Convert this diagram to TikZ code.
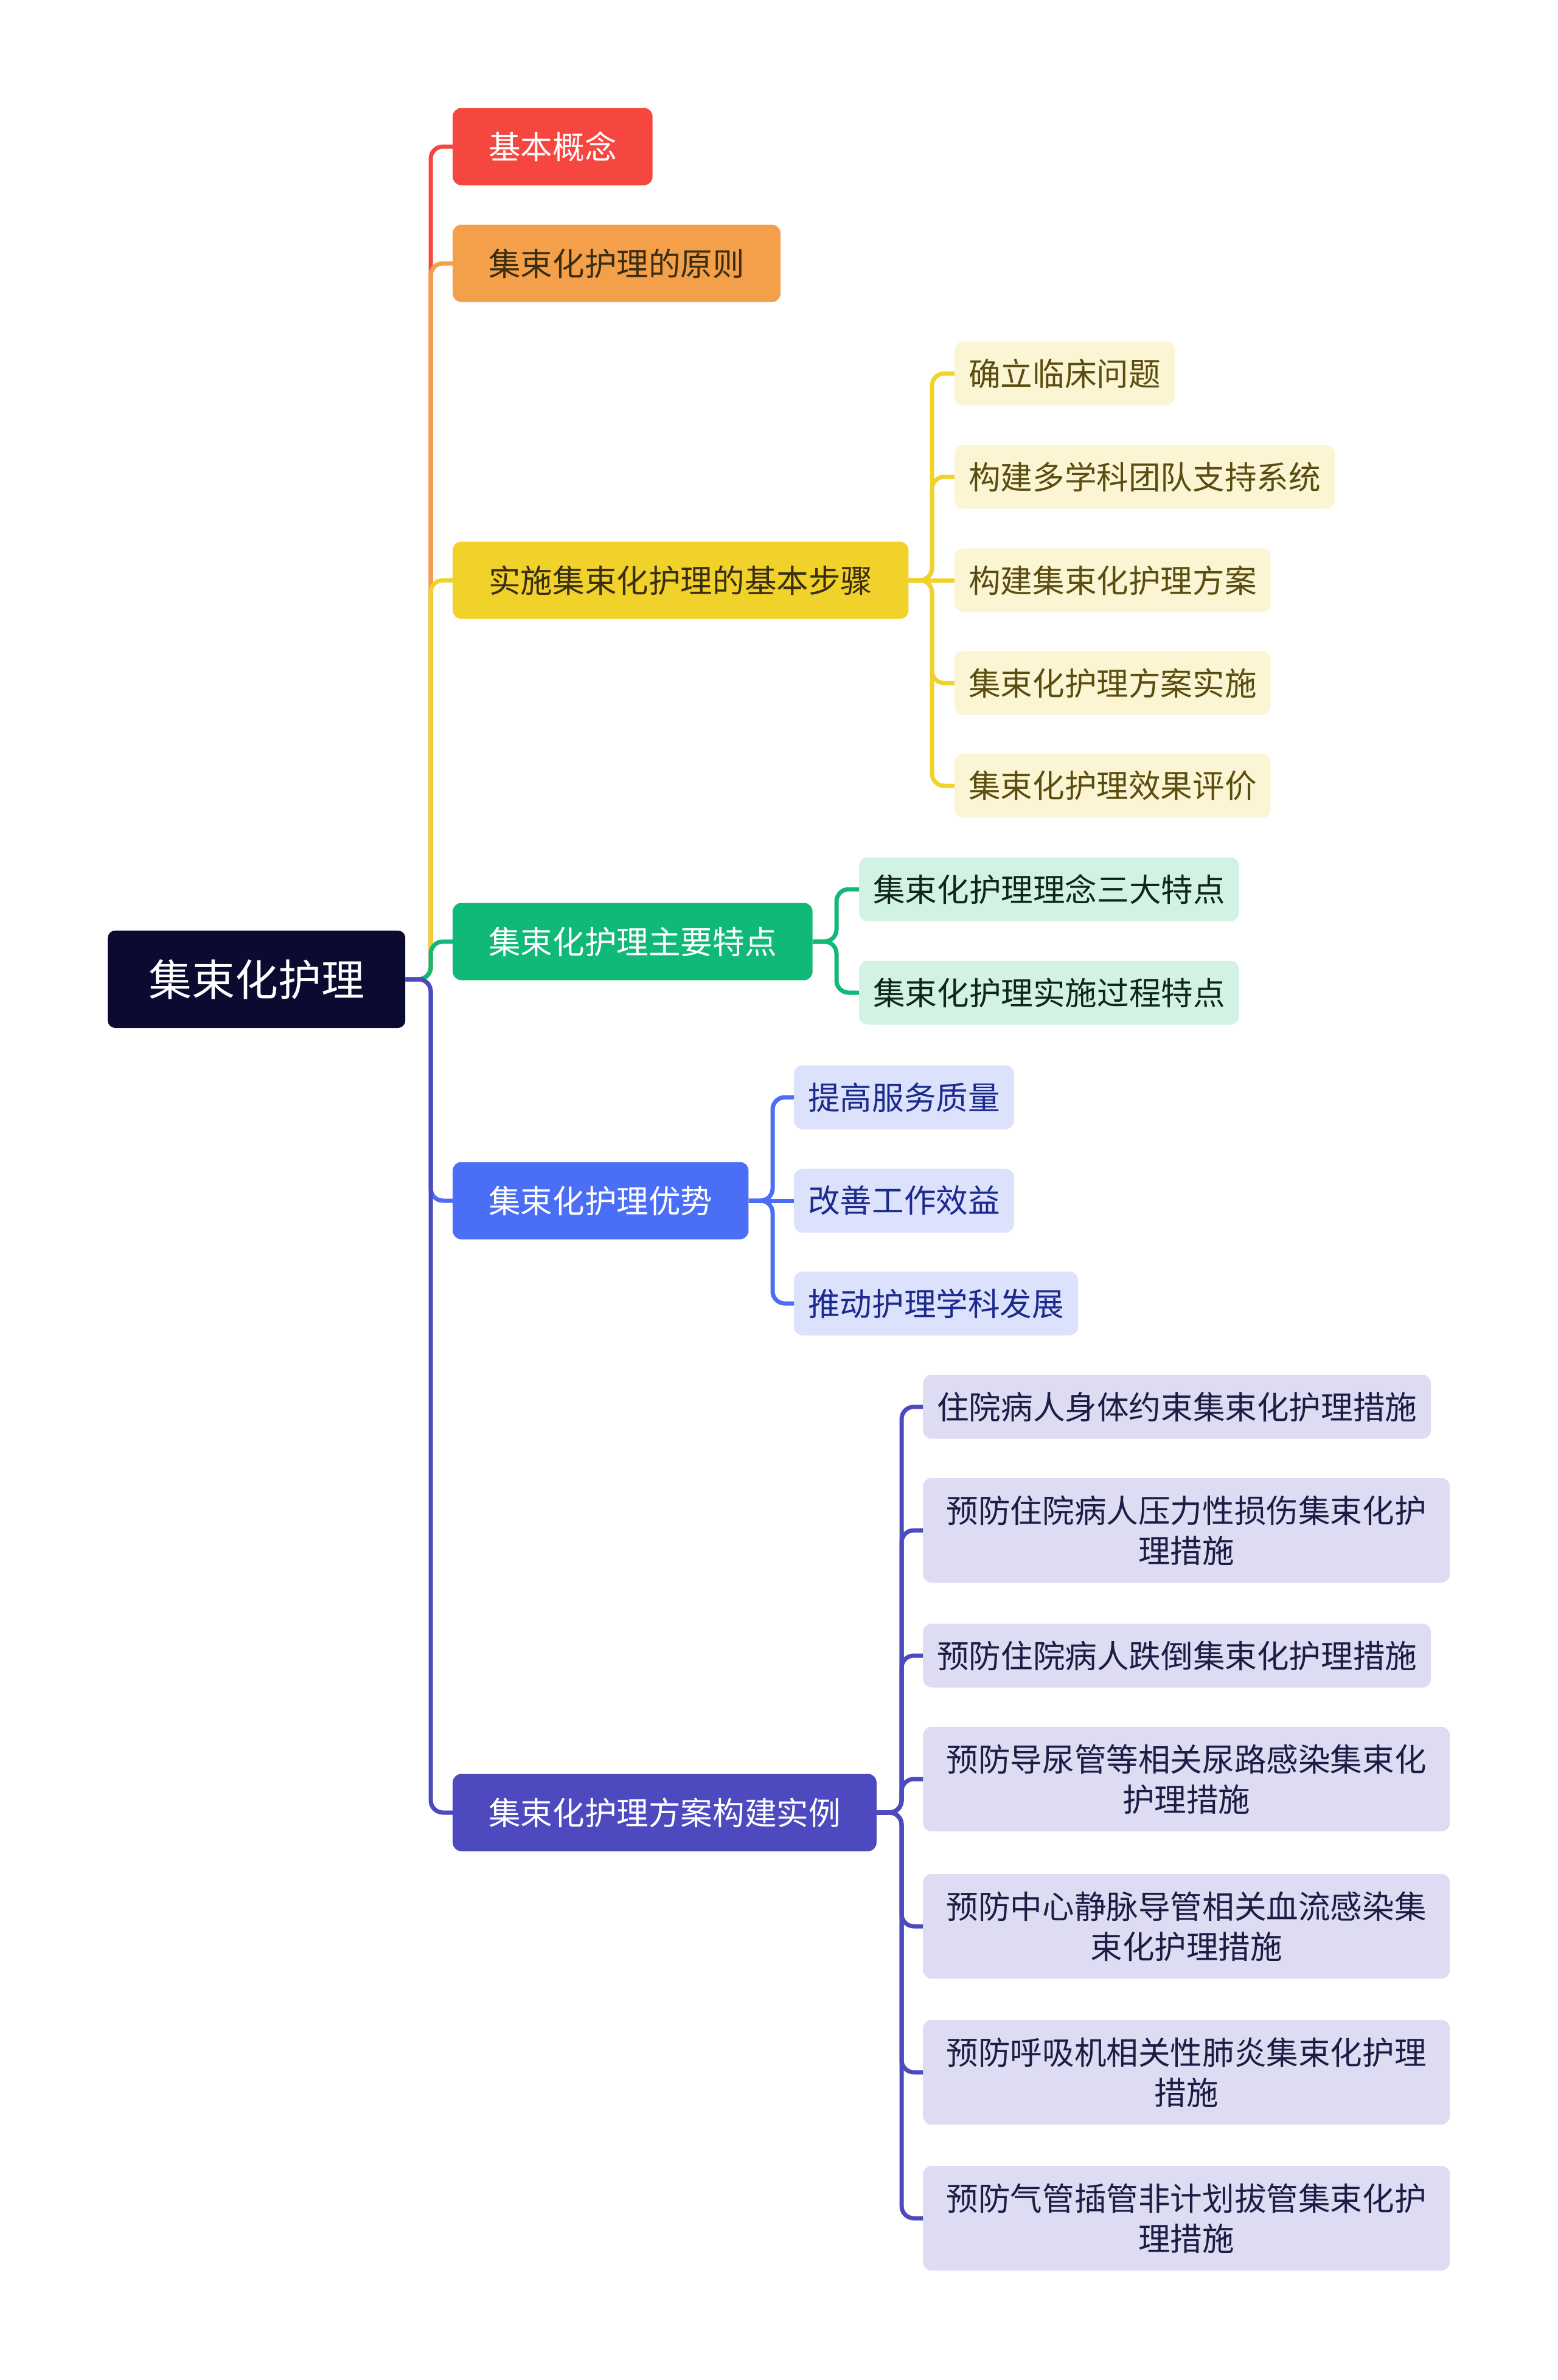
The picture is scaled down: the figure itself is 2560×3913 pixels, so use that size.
\documentclass[tikz,border=0pt]{standalone}
\usepackage{fontspec}
\newfontfamily\cjk{Noto Sans CJK SC}
\definecolor{cRoot}{HTML}{0B0A30}
\definecolor{cRed}{HTML}{F5463F}
\definecolor{cOrange}{HTML}{F4A04B}
\definecolor{cYellow}{HTML}{F0D22A}
\definecolor{cGreen}{HTML}{10B977}
\definecolor{cBlue}{HTML}{4B6EF6}
\definecolor{cPurple}{HTML}{4C4ABE}
\definecolor{lYellow}{HTML}{FCF5D3}
\definecolor{lGreen}{HTML}{D2F2E4}
\definecolor{lBlue}{HTML}{DCE2FC}
\definecolor{lPurple}{HTML}{DDDCF2}
\definecolor{tOlive}{HTML}{5A4D10}
\definecolor{tDark}{HTML}{3A2D12}
\definecolor{tGreen}{HTML}{10261C}
\definecolor{tBlue}{HTML}{1C2A8E}
\definecolor{tPurple}{HTML}{1E1C44}
\tikzset{
  rootbox/.style={anchor=west, fill=cRoot, text=white, rounded corners=12pt,
    minimum width=489pt, minimum height=160pt, font=\cjk\fontsize{71}{80}\selectfont},
  lone/.style={anchor=west, rounded corners=14pt, inner xsep=59pt, inner ysep=0pt,
    minimum height=127pt, font=\cjk\fontsize{52.6}{64}\selectfont},
  ltwo/.style={anchor=west, rounded corners=14pt, inner xsep=23pt, inner ysep=0pt,
    minimum height=105pt, font=\cjk\fontsize{52.6}{64}\selectfont},
  lthree/.style={anchor=west, rounded corners=14pt, inner xsep=33pt, inner ysep=0pt,
    minimum height=172pt, text width=800pt, align=center, fill=lPurple, text=tPurple,
    font=\cjk\fontsize{52.6}{66}\selectfont},
  conn/.style={line width=7pt, rounded corners=20pt},
}
\begin{document}
\begin{tikzpicture}[x=1pt, y=-1pt]
\useasboundingbox (0,0) rectangle (2560,3913);
\fill[white] (0,0) rectangle (2560,3913);

% root
\node[rootbox] (root) at (177,1610) {集束化护理};

% level 1
\node[lone, fill=cRed, text=white] (a) at (744,241) {基本概念};
\node[lone, fill=cOrange, text=tDark] (b) at (744,433) {集束化护理的原则};
\node[lone, fill=cYellow, text=tDark] (c) at (744,954) {实施集束化护理的基本步骤};
\node[lone, fill=cGreen, text=white] (d) at (744,1548) {集束化护理主要特点};
\node[lone, fill=cBlue, text=white] (e) at (744,1974) {集束化护理优势};
\node[lone, fill=cPurple, text=white] (f) at (744,2980) {集束化护理方案构建实例};

% level 2 under c
\node[ltwo, fill=lYellow, text=tOlive] (c1) at (1569,614) {确立临床问题};
\node[ltwo, fill=lYellow, text=tOlive] (c2) at (1569,784) {构建多学科团队支持系统};
\node[ltwo, fill=lYellow, text=tOlive] (c3) at (1569,954) {构建集束化护理方案};
\node[ltwo, fill=lYellow, text=tOlive] (c4) at (1569,1123) {集束化护理方案实施};
\node[ltwo, fill=lYellow, text=tOlive] (c5) at (1569,1292) {集束化护理效果评价};

% level 2 under d
\node[ltwo, fill=lGreen, text=tGreen] (d1) at (1412,1462) {集束化护理理念三大特点};
\node[ltwo, fill=lGreen, text=tGreen] (d2) at (1412,1632) {集束化护理实施过程特点};

% level 2 under e
\node[ltwo, fill=lBlue, text=tBlue] (e1) at (1305,1804) {提高服务质量};
\node[ltwo, fill=lBlue, text=tBlue] (e2) at (1305,1974) {改善工作效益};
\node[ltwo, fill=lBlue, text=tBlue] (e3) at (1305,2143) {推动护理学科发展};

% level 2 under f
\node[ltwo, fill=lPurple, text=tPurple] (f1) at (1517,2313) {住院病人身体约束集束化护理措施};
\node[lthree] (f2) at (1517,2516) {预防住院病人压力性损伤集束化护\\理措施};
\node[ltwo, fill=lPurple, text=tPurple] (f3) at (1517,2722) {预防住院病人跌倒集束化护理措施};
\node[lthree] (f4) at (1517,2925) {预防导尿管等相关尿路感染集束化\\护理措施};
\node[lthree] (f5) at (1517,3167) {预防中心静脉导管相关血流感染集\\束化护理措施};
\node[lthree] (f6) at (1517,3407) {预防呼吸机相关性肺炎集束化护理\\措施};
\node[lthree] (f7) at (1517,3647) {预防气管插管非计划拔管集束化护\\理措施};

% trunk connectors
\coordinate (tr) at (708,1610);
\draw[conn, cRed] (root.east) -- (tr) |- (a.west);
\draw[conn, cOrange] (root.east) -- (tr) |- (b.west);
\draw[conn, cYellow] (root.east) -- (tr) |- (c.west);
\draw[conn, cGreen] (root.east) -- (tr) |- (d.west);
\draw[conn, cBlue] (root.east) -- (tr) |- (e.west);
\draw[conn, cPurple] (root.east) -- (tr) |- (f.west);

% sub connectors
\coordinate (cb) at (1532,954);
\foreach \n in {c1,c2,c4,c5} \draw[conn, cYellow] (c.east) -- (cb) |- (\n.west);
\draw[conn, cYellow] (c.east) -- (c3.west);
\coordinate (db) at (1375,1548);
\foreach \n in {d1,d2} \draw[conn, cGreen] (d.east) -- (db) |- (\n.west);
\coordinate (eb) at (1270,1974);
\foreach \n in {e1,e3} \draw[conn, cBlue] (e.east) -- (eb) |- (\n.west);
\draw[conn, cBlue] (e.east) -- (e2.west);
\coordinate (fb) at (1482,2980);
\foreach \n in {f1,f2,f3,f4,f5,f6,f7} \draw[conn, cPurple] (f.east) -- (fb) |- (\n.west);
\end{tikzpicture}
\end{document}
